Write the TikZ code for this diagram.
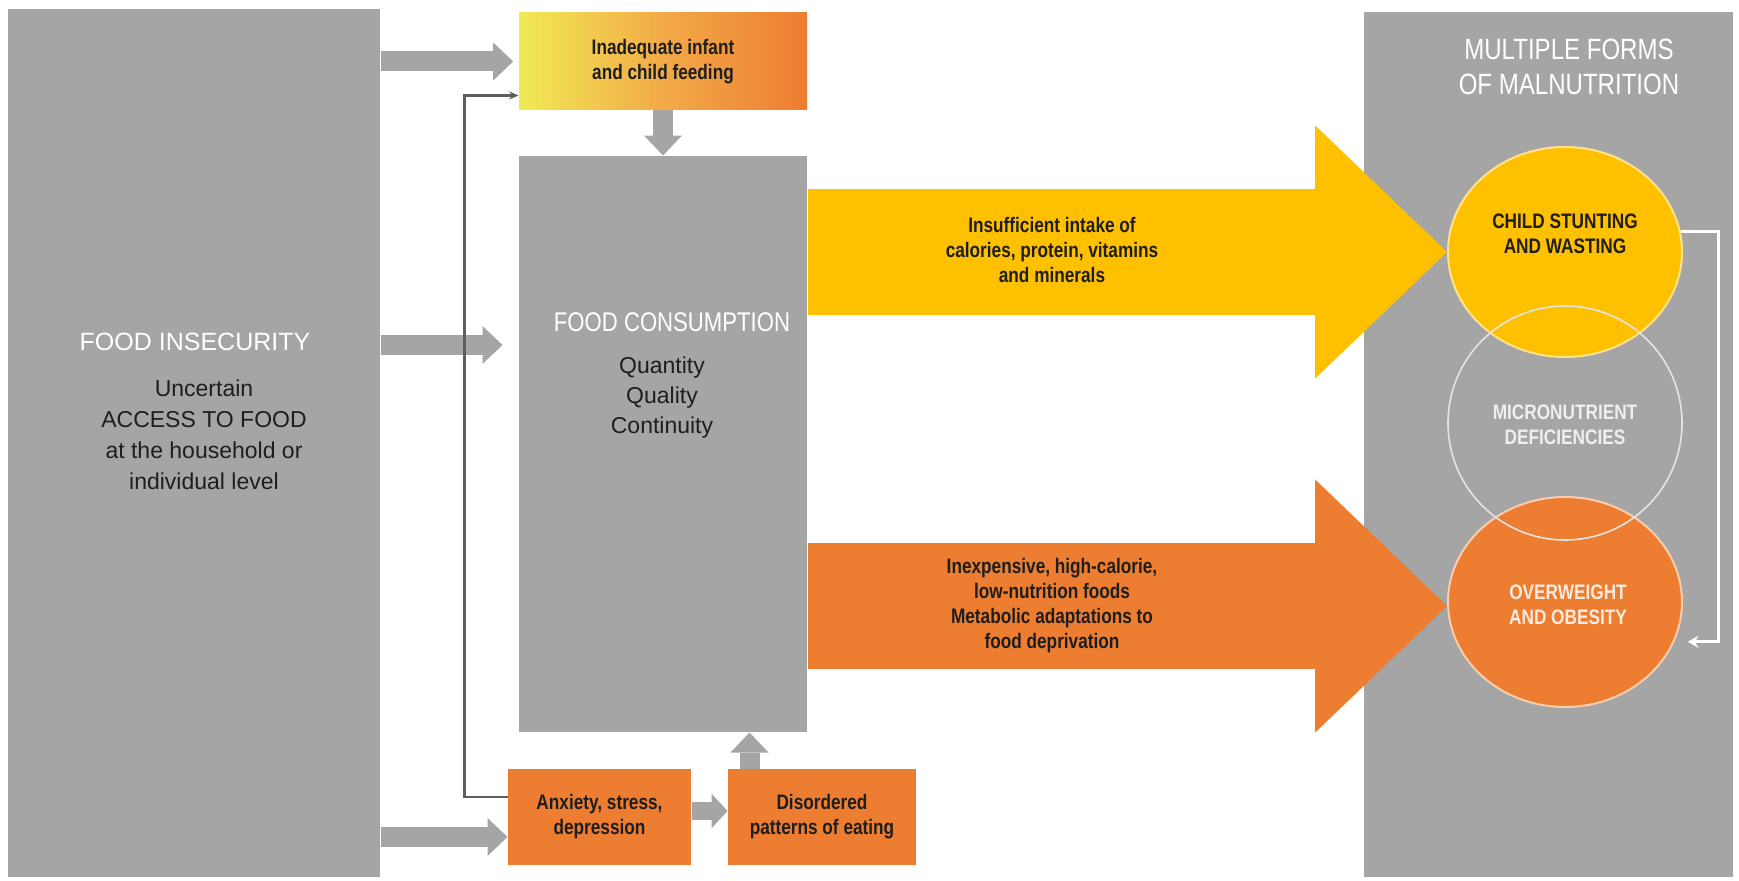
\documentclass[tikz,border=0pt]{standalone}
\usepackage{fontspec}
\setmainfont{Liberation Sans}
\newfontfamily\narrowfont[FakeStretch=0.82]{Liberation Sans}
\usetikzlibrary{arrows.meta,shapes.geometric,calc}

\definecolor{panelgrey}{HTML}{A5A5A5}
\definecolor{formyellow}{HTML}{FFC000}
\definecolor{formorange}{HTML}{ED7D31}
\definecolor{paleyellow}{HTML}{F1EA55}
\definecolor{midorange}{HTML}{F2AA48}
\definecolor{rimyellow}{HTML}{FFE38C}
\definecolor{rimorange}{HTML}{F9CDAE}
\definecolor{rimwhite}{HTML}{E4E4E4}
\definecolor{feedline}{HTML}{5E5E5E}
\definecolor{inktext}{HTML}{1E1E1E}

\tikzset{every picture/.style={line width=0.75pt}}

\begin{document}
\begin{tikzpicture}[x=0.75pt,y=0.75pt,yscale=-1,xscale=1,
	panel/.style={rectangle,fill=panelgrey,inner sep=0pt},
	causebox/.style={rectangle,fill=formorange,inner sep=0pt,minimum height=72pt,text=inktext,align=center,font=\narrowfont\bfseries\fontsize{15.75}{18.75}\selectfont},
	formblob/.style={ellipse,inner sep=0pt,minimum width=175.5pt,minimum height=157.5pt,line width=1.5pt},
	greyarrow/.style={draw=panelgrey,line width=15pt,-{Triangle[length=15pt,width=28.5pt,line width=0pt]}},
	bigarrow/.style={line width=95pt,-{Triangle[length=99pt,width=190pt,line width=0pt]}},
	headtxt/.style={text=white,align=center,font=\fontsize{18.75}{22}\selectfont},
	bodytxt/.style={text=inktext,align=center,font=\fontsize{17.25}{23.25}\selectfont},
	smalltxt/.style={text=inktext,align=center,font=\narrowfont\bfseries\fontsize{15.75}{18.75}\selectfont}
	]
	%set diagram to the size of the original
	\fill[white] (0,0) rectangle (1739,881);
	\useasboundingbox (0,0) rectangle (1739,881);

	%Shape: Rectangle
	\node[panel,minimum width=279pt,minimum height=651pt] (insecurity) at (194,443) {};
	%Shape: Rectangle
	\node[panel,minimum width=216pt,minimum height=432pt] (consumption) at (663,444) {};
	%Shape: Rectangle
	\node[rectangle,inner sep=0pt,minimum width=216pt,minimum height=72.75pt,left color=paleyellow,right color=formorange,middle color=midorange,smalltxt] (feeding) at (663,61.5) {Inadequate infant\\and child feeding};
	%Shape: Rectangle
	\node[causebox,minimum width=137.25pt] (anxiety) at (599.5,817) {Anxiety, stress,\\depression};
	%Shape: Rectangle
	\node[causebox,minimum width=141pt] (disorder) at (822,817) {Disordered\\patterns of eating};
	%Shape: Rectangle
	\node[panel,minimum width=276.75pt,minimum height=648.75pt] (forms) at (1548.5,444.5) {};

	%Shape: Ellipse
	\node[formblob,fill=formyellow,draw=rimyellow] (stunting) at (1565,252) {};
	%Shape: Ellipse
	\node[formblob,fill=formorange,draw=rimorange] (obesity) at (1565,602) {};
	%Shape: Circle
	\node[circle,inner sep=0pt,minimum size=175.5pt,draw=rimwhite,line width=1.2pt] (micro) at (1565,423) {};

	%Straight Lines
	\draw[greyarrow,shorten >=4pt] (feeding.west -| insecurity.east) -- (feeding.west);
	%Straight Lines
	\draw[greyarrow,shorten >=12pt] ($(insecurity.east)+(0,-98)$) -- ($(insecurity.east -| consumption.west)+(0,-98)$);
	%Straight Lines
	\draw[greyarrow] ($(anxiety.west -| insecurity.east)+(0,20)$) -- ($(anxiety.west)+(0,20)$);
	%Straight Lines
	\draw[greyarrow] (feeding.south) -- (consumption.north);
	%Straight Lines
	\coordinate (riser) at ($(disorder.north west)+(22,0)$);
	\draw[greyarrow] (riser) -- (riser |- consumption.south);
	%Straight Lines
	\draw[greyarrow,line width=13.5pt,-{Triangle[length=12pt,width=26pt,line width=0pt]}] ($(anxiety.east)+(0,-6)$) -- ($(disorder.west)+(0,-6)$);
	%Straight Lines
	\draw[feedline,line width=2pt,-{Stealth[length=7pt,width=6pt]}] ($(anxiety.west)+(0,-20)$) -- ++(-43,0) |- ($(feeding.west)+(0,34)$);

	%Straight Lines
	\draw[bigarrow,draw=formyellow] (consumption.east |- stunting.west) -- (stunting.west);
	%Straight Lines
	\draw[bigarrow,draw=formorange] ($(consumption.east |- obesity.west)+(0,4)$) -- ($(obesity.west)+(0,4)$);
	%Straight Lines
	\draw[white,line width=2.25pt,-{Stealth[length=8pt,width=9pt]},shorten >=10pt] (stunting.10) -- ++(38,0) |- (obesity.-20);

	% Text Node
	\node[headtxt] (insec-title) at (195,342) {FOOD INSECURITY};
	% Text Node
	\node[bodytxt] (insec-body) at (204,435) {Uncertain\\ACCESS TO FOOD\\at the household or\\individual level};
	% Text Node
	\node[headtxt,font=\narrowfont\fontsize{20.25}{24}\selectfont] (cons-title) at (672,322) {FOOD CONSUMPTION};
	% Text Node
	\node[bodytxt,font=\fontsize{17.25}{22.5}\selectfont] (cons-body) at (662,398) {Quantity\\Quality\\Continuity};
	% Text Node
	\node[smalltxt] (lack-lbl) at (1052,250) {Insufficient intake of\\calories, protein, vitamins\\and minerals};
	% Text Node
	\node[smalltxt] (excess-lbl) at (1052,606) {Inexpensive, high-calorie,\\low-nutrition foods\\Metabolic adaptations to\\food deprivation};
	% Text Node
	\node[headtxt,font=\narrowfont\fontsize{22}{26}\selectfont] (forms-title) at (1569,67) {MULTIPLE FORMS\\OF MALNUTRITION};
	% Text Node
	\node[smalltxt] (stunting-lbl) at (1565,234) {CHILD STUNTING\\AND WASTING};
	% Text Node
	\node[smalltxt,text=rimwhite!60!white] (micro-lbl) at (1565,425) {MICRONUTRIENT\\DEFICIENCIES};
	% Text Node
	\node[smalltxt,text=rimorange!40!white] (obesity-lbl) at (1568,605) {OVERWEIGHT\\AND OBESITY};

\end{tikzpicture}
\end{document}
